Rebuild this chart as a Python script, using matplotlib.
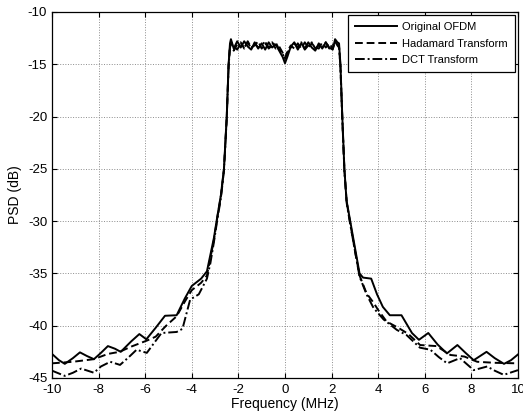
import matplotlib.pyplot as plt

# Original OFDM
f_orig = [-10.0, -9.7, -9.45, -9.1, -8.8, -8.5, -8.2, -7.9, -7.6, -7.3, -7.05, -6.6, -6.25, -5.95,
          -5.55, -5.15, -4.65, -4.3, -4.0, -3.6, -3.35, -3.2, -3.05, -2.9, -2.75, -2.62, -2.5,
          -2.42, -2.36, -2.32, -2.2, -2.05, -1.9, -1.75, -1.6, -1.45, -1.3, -1.15, -1.0, -0.85,
          -0.7, -0.55, -0.4, -0.25, -0.1, 0.0, 0.1, 0.25, 0.4, 0.55, 0.7, 0.85, 1.0, 1.15, 1.3,
          1.45, 1.6, 1.75, 1.9, 2.05, 2.15, 2.25, 2.32, 2.38, 2.46, 2.55, 2.64, 2.8, 3.0, 3.2,
          3.35, 3.7, 3.95, 4.2, 4.5, 5.0, 5.45, 5.75, 6.15, 6.55, 6.95, 7.4, 7.75, 8.1, 8.65,
          9.0, 9.4, 9.7, 10.0]
p_orig = [-42.7, -43.3, -43.65, -43.1, -42.55, -42.9, -43.2, -42.6, -41.95, -42.2, -42.5, -41.5,
          -40.8, -41.3, -40.2, -39.05, -39.0, -37.4, -36.2, -35.5, -34.8, -33.2, -31.6, -29.5,
          -27.5, -25.0, -20.0, -15.0, -13.0, -12.6, -13.5, -12.8, -13.4, -12.8, -13.3, -13.6,
          -12.9, -13.5, -13.0, -13.6, -12.9, -13.4, -13.1, -13.7, -14.3, -14.9, -14.3, -13.3,
          -12.9, -13.6, -13.0, -13.5, -12.9, -13.4, -13.7, -13.0, -13.5, -12.9, -13.4, -13.6,
          -12.6, -12.9, -13.0, -15.0, -20.0, -25.0, -28.0, -30.0, -32.5, -35.0, -35.4, -35.5,
          -37.0, -38.2, -39.0, -39.0, -40.7, -41.35, -40.7, -41.8, -42.65, -41.85, -42.6, -43.3,
          -42.5, -43.1, -43.65, -43.3, -42.75]

# Hadamard Transform
f_had = [-10.0, -9.1, -8.2, -7.6, -7.1, -6.6, -6.25, -5.9, -5.55, -5.1, -4.65, -4.3, -4.0, -3.6,
         -3.35, -3.2, -3.05, -2.9, -2.75, -2.62, -2.5, -2.42, -2.36, -2.3, -2.2, -2.05, -1.9,
         -1.75, -1.6, -1.45, -1.3, -1.15, -1.0, -0.85, -0.7, -0.55, -0.4, -0.25, -0.1, 0.0, 0.1,
         0.25, 0.4, 0.55, 0.7, 0.85, 1.0, 1.15, 1.3, 1.45, 1.6, 1.75, 1.9, 2.05, 2.15, 2.25,
         2.32, 2.38, 2.46, 2.55, 2.65, 2.8, 3.0, 3.2, 3.5, 3.8, 4.0, 4.36, 4.9, 5.3, 5.8, 6.5,
         7.1, 7.7, 8.25, 9.0, 10.0]
p_had = [-43.6, -43.45, -43.2, -42.7, -42.5, -42.0, -41.7, -41.4, -41.05, -40.0, -39.1, -37.7,
         -36.6, -35.9, -35.2, -33.5, -31.8, -29.6, -27.6, -25.1, -20.1, -15.1, -13.2, -12.9,
         -13.7, -13.1, -12.9, -13.5, -12.8, -13.4, -13.2, -12.8, -13.5, -13.0, -13.4, -12.9,
         -13.5, -13.3, -13.9, -14.4, -13.8, -13.2, -13.5, -13.0, -13.5, -12.9, -13.4, -13.0,
         -13.4, -13.5, -12.9, -13.4, -13.0, -13.5, -12.9, -13.1, -13.3, -15.2, -20.2, -25.1,
         -28.2, -30.2, -32.8, -35.2, -36.9, -37.8, -38.5, -39.6, -40.25, -40.8, -41.85, -41.95,
         -42.8, -42.95, -43.45, -43.55, -43.6]

# DCT Transform
f_dct = [-10.0, -9.45, -9.1, -8.75, -8.2, -7.9, -7.5, -7.08, -6.7, -6.37, -5.93, -5.6, -5.3,
         -4.65, -4.4, -4.07, -3.7, -3.35, -3.2, -3.05, -2.9, -2.75, -2.62, -2.5, -2.42, -2.36,
         -2.3, -2.2, -2.05, -1.9, -1.75, -1.6, -1.45, -1.3, -1.15, -1.0, -0.85, -0.7, -0.55,
         -0.4, -0.25, -0.1, 0.0, 0.1, 0.25, 0.4, 0.55, 0.7, 0.85, 1.0, 1.15, 1.3, 1.45, 1.6,
         1.75, 1.9, 2.05, 2.15, 2.25, 2.32, 2.38, 2.46, 2.55, 2.65, 2.8, 3.0, 3.2, 3.5, 3.8,
         4.23, 4.8, 5.22, 5.79, 6.24, 6.6, 6.96, 7.51, 8.1, 8.68, 9.0, 9.39, 10.0]
p_dct = [-44.3, -44.8, -44.5, -44.1, -44.5, -43.9, -43.45, -43.75, -43.0, -42.3, -42.6, -41.6,
         -40.7, -40.6, -40.3, -37.5, -37.0, -35.5, -34.0, -32.0, -29.8, -27.8, -25.2, -20.2,
         -15.2, -13.4, -13.0, -13.3, -13.6, -13.0, -13.4, -12.9, -13.5, -13.0, -13.4, -13.2,
         -12.8, -13.5, -13.2, -12.9, -13.6, -14.0, -14.5, -13.9, -13.4, -13.0, -13.4, -12.9,
         -13.6, -13.2, -12.9, -13.5, -13.2, -13.4, -12.9, -13.5, -13.2, -12.8, -13.2, -13.4,
         -15.2, -20.2, -25.2, -28.3, -30.3, -32.8, -35.3, -37.0, -38.3, -39.4, -40.4, -40.9,
         -42.1, -42.3, -43.0, -43.6, -43.1, -44.25, -43.9, -44.3, -44.7, -44.25]

x_ticks = list(range(-10, 11, 2))
y_ticks = list(range(-45, -9, 5))

plt.rcParams['font.family'] = ['Liberation Sans', 'DejaVu Sans']
plt.rcParams['font.size'] = 9

fig = plt.figure(figsize=(5.23, 4.19), dpi=100)
ax = fig.add_axes([0.0994, 0.0979, 0.891, 0.8735])

ax.plot(f_orig, p_orig, color='k', linestyle='-', linewidth=1.4, label='Original OFDM')
ax.plot(f_had, p_had, color='k', linestyle=(0, (4, 2)), linewidth=1.4, label='Hadamard Transform')
ax.plot(f_dct, p_dct, color='k', linestyle=(0, (5, 1.5, 1, 1.5)), linewidth=1.4, label='DCT Transform')

ax.set_xlim(-10, 10)
ax.set_ylim(-45, -10)
ax.set_xticks(x_ticks)
ax.set_yticks(y_ticks)
ax.set_xticklabels([str(t) for t in x_ticks])
ax.set_yticklabels([str(t) for t in y_ticks])
ax.grid(True, color='#8c8c8c', linestyle=':', linewidth=0.7)
ax.tick_params(direction='in', top=True, right=True, length=3.5, width=0.8, labelsize=9.5)
ax.tick_params(axis='x', pad=4)
ax.tick_params(axis='y', pad=3.5)
for s in ax.spines.values():
    s.set_linewidth(0.9)

ax.set_xlabel('Frequency (MHz)', fontsize=10, labelpad=1)
ax.set_ylabel('PSD (dB)', fontsize=10, labelpad=4)

leg = ax.legend(loc='upper right', fancybox=False, edgecolor='k', framealpha=1, fontsize=8,
                handlelength=3.8, borderaxespad=0.3, labelspacing=0.6, handletextpad=0.45,
                borderpad=0.6)
leg.get_frame().set_linewidth(0.9)

fig.savefig('out.png', dpi=100)
